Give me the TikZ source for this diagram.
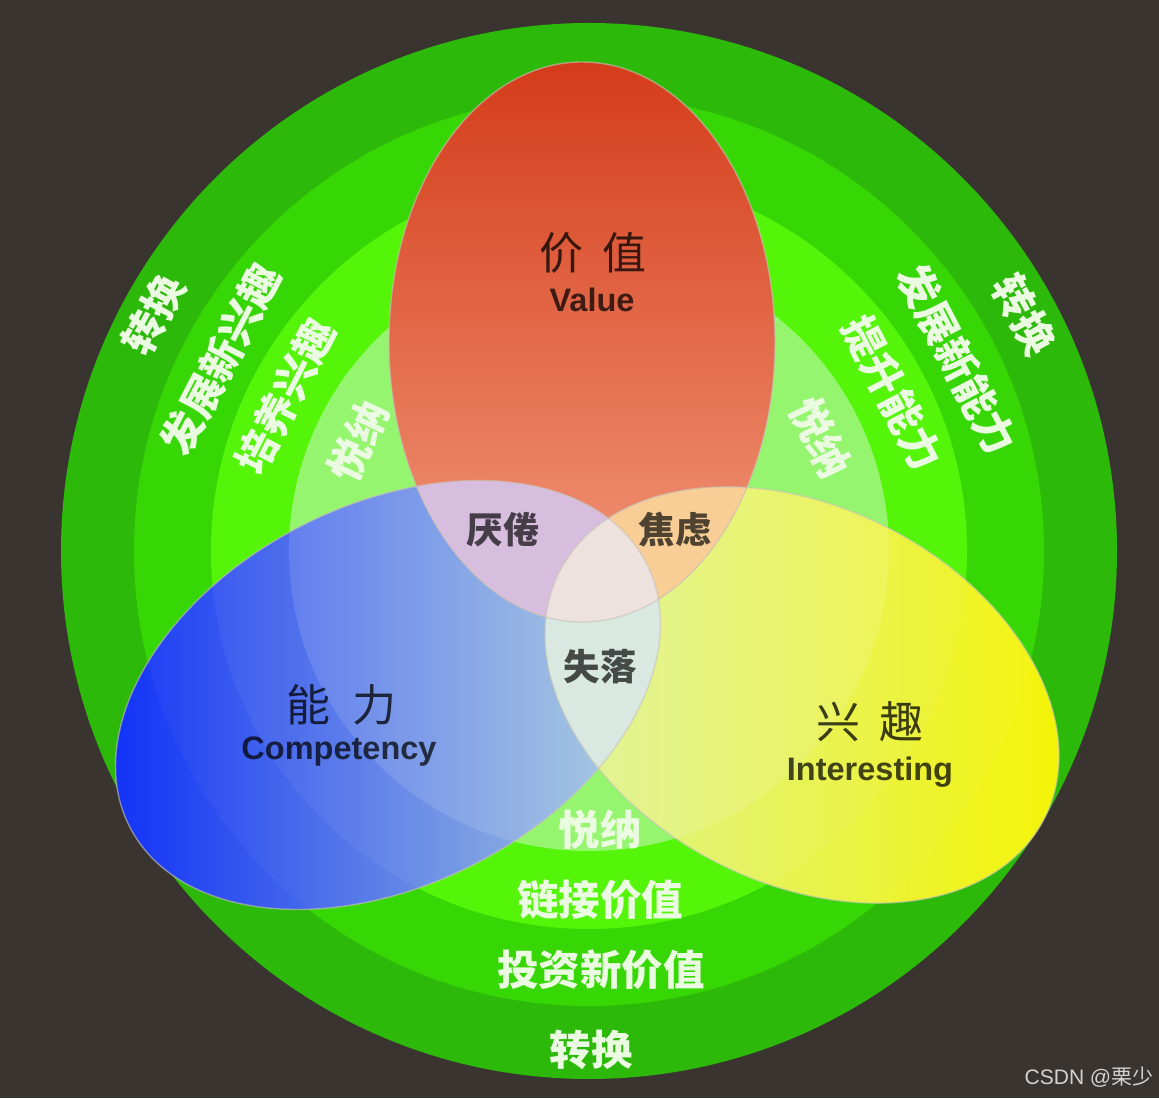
\documentclass[tikz,border=0pt]{standalone}
\usepackage{fontspec}
\setmainfont{Liberation Sans}
\newfontfamily\cjk{Noto Sans CJK SC}
\usetikzlibrary{calc}
\definecolor{bg}{HTML}{3A3430}
\definecolor{ringA}{HTML}{2DB90A}
\definecolor{ringB}{HTML}{37D705}
\definecolor{ringC}{HTML}{55F50A}
\definecolor{ringD}{HTML}{96F56E}
\definecolor{redTop}{HTML}{D43C1A}
\definecolor{redMid}{HTML}{E4603E}
\definecolor{redBot}{HTML}{F29A7C}
\definecolor{blueDeep}{HTML}{0A2AF8}
\definecolor{blueMid}{HTML}{7C94E4}
\definecolor{bluePale}{HTML}{A8D2D6}
\definecolor{yelPale}{HTML}{D8F290}
\definecolor{yelMid}{HTML}{E6F862}
\definecolor{yelSat}{HTML}{F6F400}
\definecolor{lav}{HTML}{D8BEDE}
\definecolor{peach}{HTML}{F8CE96}
\definecolor{palecyan}{HTML}{D9E9E2}
\definecolor{tripleC}{HTML}{EEE2DE}
\definecolor{ringtxt}{HTML}{EAFBE2}
\definecolor{edgeC}{HTML}{C8C2B8}
\definecolor{wmC}{HTML}{D2D2D2}
\begin{document}
\begin{tikzpicture}[x=1pt,y=1pt,
  blueT/.style={rotate around={27:(388,403)}},
  yellowT/.style={rotate around={-27:(802,403)}},
  ringtext/.style={text=ringtxt, font=\cjk\bfseries\fontsize{41.5}{41.5}\selectfont, inner sep=0pt},
  mainlabel/.style={text=black, text opacity=0.75, font=\cjk\fontsize{44}{44}\selectfont, inner sep=0pt},
  latinlabel/.style={text=black, text opacity=0.72, font=\bfseries\fontsize{32.5}{32.5}\selectfont, inner sep=0pt},
  smalllabel/.style={text=black, text opacity=0.68, font=\cjk\bfseries\fontsize{36.5}{36.5}\selectfont, inner sep=0pt},
  edge/.style={draw=edgeC, draw opacity=0.6, line width=1.4pt}]
\useasboundingbox (0,0) rectangle (1159,1098);
\fill[bg] (0,0) rectangle (1159,1098);
\coordinate (C) at (589,547);
% rings
\fill[ringA] (C) circle (528);
\fill[ringB] (C) circle (455);
\fill[ringC] (C) circle (378);
\fill[ringD] (C) circle (300);
% blue ellipse
\shade[blueT, left color=blueDeep, middle color=blueMid, right color=bluePale] (388,403) ellipse (290 and 190);
\begin{scope}
  \clip[blueT] (388,403) ellipse (290 and 190);
  \fill[white, opacity=0.03] (C) circle (455);
  \fill[white, opacity=0.05] (C) circle (378);
  \fill[white, opacity=0.12] (C) circle (300);
\end{scope}
% yellow ellipse
\shade[yellowT, left color=yelPale, middle color=yelMid, right color=yelSat] (802,403) ellipse (272 and 188);
\begin{scope}
  \clip[yellowT] (802,403) ellipse (272 and 188);
  \fill[white, opacity=0.03] (C) circle (455);
  \fill[white, opacity=0.05] (C) circle (378);
  \fill[white, opacity=0.12] (C) circle (300);
\end{scope}
% red ellipse
\shade[top color=redTop, middle color=redMid, bottom color=redBot] (582,756) ellipse (193 and 280);
% overlaps
\begin{scope}
  \clip (582,756) ellipse (193 and 280);
  \fill[lav, blueT] (388,403) ellipse (290 and 190);
\end{scope}
\begin{scope}
  \clip (582,756) ellipse (193 and 280);
  \fill[peach, yellowT] (802,403) ellipse (272 and 188);
\end{scope}
\begin{scope}
  \clip[blueT] (388,403) ellipse (290 and 190);
  \fill[palecyan, yellowT] (802,403) ellipse (272 and 188);
\end{scope}
\begin{scope}
  \clip (582,756) ellipse (193 and 280);
  \clip[blueT] (388,403) ellipse (290 and 190);
  \fill[tripleC, yellowT] (802,403) ellipse (272 and 188);
\end{scope}
% outlines
\draw[edge] (582,756) ellipse (193 and 280);
\draw[edge, blueT] (388,403) ellipse (290 and 190);
\draw[edge, yellowT] (802,403) ellipse (272 and 188);
% ring texts left
\node[ringtext, rotate=61.5] (l1) at ([shift={(151.5:495)}]C) {转换};
\node[ringtext, rotate=62.5] (l2) at ([shift={(152.5:415)}]C) {发展新兴趣};
\node[ringtext, rotate=63] (l3) at ([shift={(153:341)}]C) {培养兴趣};
\node[ringtext, rotate=64.5] (l4) at ([shift={(154.5:256)}]C) {悦纳};
% ring texts right
\node[ringtext, rotate=-61.5] (r1) at ([shift={(28.5:495)}]C) {转换};
\node[ringtext, rotate=-62.5] (r2) at ([shift={(27.5:415)}]C) {发展新能力};
\node[ringtext, rotate=-62.5] (r3) at ([shift={(27.5:342)}]C) {提升能力};
\node[ringtext, rotate=-64] (r4) at ([shift={(26:258)}]C) {悦纳};
% ring texts bottom
\node[ringtext] (b1) at (591,48) {转换};
\node[ringtext] (b2) at (601,128) {投资新价值};
\node[ringtext] (b3) at (600,198) {链接价值};
\node[ringtext] (b4) at (600,268) {悦纳};
% main labels
\node[mainlabel] (v1) at (593,845) {价\hspace{0.42em}值};
\node[latinlabel] (v2) at (592,798) {Value};
\node[mainlabel] (c1) at (341,393) {能\hspace{0.5em}力};
\node[latinlabel] (c2) at (339,346) {Competency};
\node[mainlabel] (i1) at (870,376) {兴\hspace{0.45em}趣};
\node[latinlabel] (i2) at (870,326) {Interesting};
% overlap labels
\node[smalllabel] (o1) at (503,568) {厌倦};
\node[smalllabel] (o2) at (675,568) {焦虑};
\node[smalllabel] (o3) at (600,431) {失落};
% watermark
\node[text=wmC, inner sep=0pt, font=\fontsize{21}{21}\selectfont] (wm) at (1089,21) {CSDN @{\cjk 栗少}};
\end{tikzpicture}
\end{document}
